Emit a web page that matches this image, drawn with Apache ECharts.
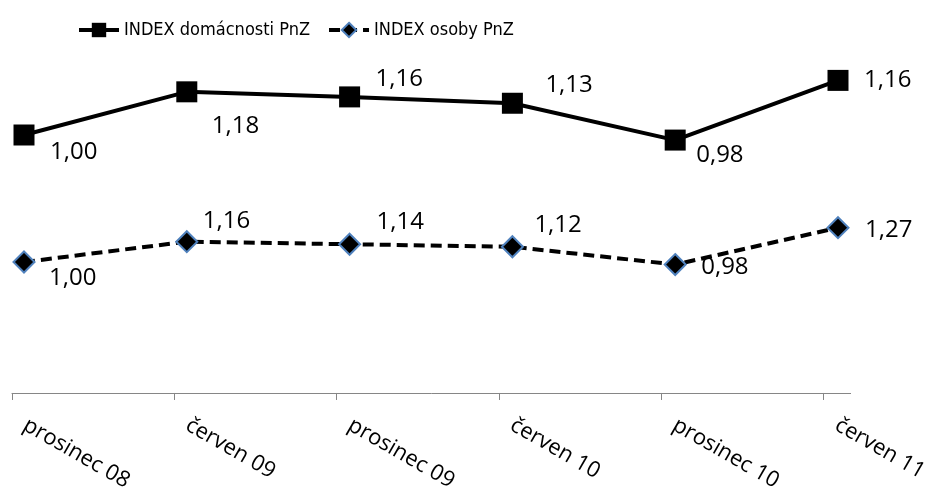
<!DOCTYPE html>
<html>
<head>
<meta charset="utf-8">
<script src="https://cdn.jsdelivr.net/npm/echarts@6/dist/echarts.min.js"></script>
<style>
html,body{margin:0;padding:0;background:#fff;}
#c{width:931px;height:494px;}
</style>
</head>
<body>
<div id="c"></div>
<script>
// ---- data ----
const categories = ['prosinec 08', 'červen 09', 'prosinec 09', 'červen 10', 'prosinec 10', 'červen 11'];
const domacnosti = [1.00, 1.18, 1.16, 1.13, 0.98, 1.16];
const osoby = [1.00, 1.16, 1.14, 1.12, 0.98, 1.27];
const seriesNames = ['INDEX domácnosti PnZ', 'INDEX osoby PnZ'];

// ---- label placement (style only) ----
const domLabelPos = [[26,17],[25,34],[26,-18],[33,-18],[21,15],[26,0]];
const osLabelPos  = [[24,16],[15,-21],[26,-22],[21,-22],[25,3],[26,2]];

const SQ = 21, DM = 21;
const labelFont = {fontFamily: 'Open Sans', fontSize: 24, color: '#000'};
const fmt = p => p.value.toFixed(2).replace('.', ',');

function withLabels(vals, pos, half) {
  return vals.map((v, i) => ({
    value: v,
    label: {offset: [pos[i][0] - half, pos[i][1]]}
  }));
}

const chart = echarts.init(document.getElementById('c'), null, {renderer: 'canvas'});
chart.setOption({
  animation: false,
  backgroundColor: '#fff',
  legend: {
    data: seriesNames,
    left: 72, top: 16,
    itemWidth: 40, itemHeight: 18, itemGap: 17,
    lineStyle: {width: 4},
    textStyle: {fontFamily: '"Liberation Sans Narrow", "DejaVu Sans Condensed", "Open Sans"', fontSize: 18, color: '#000'}
  },
  grid: [
    {left: 24, right: 93, top: 8, bottom: 105},
    {left: 12, right: 79, top: 300, bottom: 101}
  ],
  xAxis: [
    {type: 'category', gridIndex: 0, data: categories, boundaryGap: false, show: false},
    {type: 'value', gridIndex: 1, min: 0, max: 5.166,
      axisLine: {show: true, lineStyle: {color: '#868686', width: 1}},
      axisTick: {show: true, length: 7, customValues: [0,1,2,3,4,5], lineStyle: {color: '#868686'}},
      splitLine: {show: false},
      axisLabel: {
        customValues: [0,1,2,3,4,5],
        formatter: v => categories[Math.round(v)] || '',
        rotate: -30, margin: 23, padding: [0,0,0,15],
        fontFamily: 'Open Sans', fontSize: 22, color: '#000'
      }
    }
  ],
  yAxis: [
    {type: 'value', gridIndex: 0, min: 0, max: 3, show: false},
    {type: 'value', gridIndex: 1, show: false}
  ],
  series: [
    {
      name: seriesNames[1], type: 'line', stack: 'total',
      xAxisIndex: 0, yAxisIndex: 0,
      data: withLabels(osoby, osLabelPos, DM / 2),
      symbol: 'diamond', symbolSize: DM,
      itemStyle: {color: '#000', borderColor: '#4F81BD', borderWidth: 2},
      lineStyle: {color: '#000', width: 4, type: [11, 6]},
      label: Object.assign({show: true, position: 'right', distance: 0, formatter: fmt}, labelFont),
      z: 2
    },
    {
      name: seriesNames[0], type: 'line', stack: 'total',
      xAxisIndex: 0, yAxisIndex: 0,
      data: withLabels(domacnosti, domLabelPos, SQ / 2),
      symbol: 'rect', symbolSize: SQ,
      itemStyle: {color: '#000', borderColor: '#000', borderWidth: 0},
      lineStyle: {color: '#000', width: 4, type: 'solid'},
      label: Object.assign({show: true, position: 'right', distance: 0, formatter: fmt}, labelFont),
      z: 3
    }
  ]
});
</script>
</body>
</html>
